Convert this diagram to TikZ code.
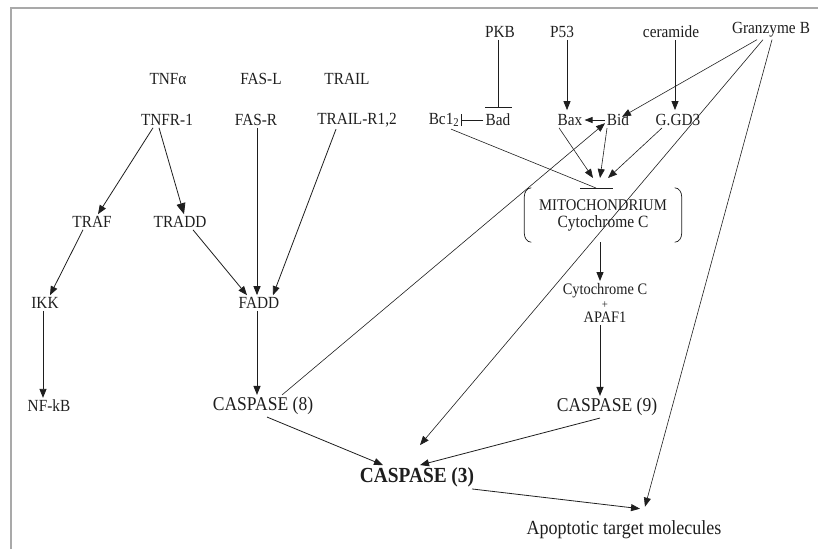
\documentclass[tikz,border=0pt]{standalone}
\usepackage{fontspec}
\setmainfont{Liberation Serif}[FakeStretch=0.9]
\usetikzlibrary{arrows.meta}
\definecolor{ink}{HTML}{1E1E1E}
\definecolor{framegray}{HTML}{A9A9A9}
\tikzset{
  lbl/.style={inner sep=2pt, text=ink, font=\fontsize{17}{17}\selectfont},
  big/.style={lbl, font=\fontsize{19.5}{19.5}\selectfont},
  arr/.style={draw=ink, line width=0.8pt, -{Triangle[length=9pt,width=7pt]}},
  thinarr/.style={draw=ink, line width=0.6pt, -{Triangle[length=9pt,width=7pt]}},
  inh/.style={draw=ink, line width=0.8pt},
}
\begin{document}
\begin{tikzpicture}[x=1pt,y=-1pt]
\useasboundingbox (0,0) rectangle (818,549);
% frame
\draw[framegray, line width=2.5pt] (11,549) -- (11,8) -- (818,8);

% left: receptors
\node[lbl] (tnfa) at (168,79) {TNFα};
\node[lbl] (fasl) at (261,79) {FAS-L};
\node[lbl] (trail) at (347,79) {TRAIL};
\node[lbl] (tnfr) at (167,120) {TNFR-1};
\node[lbl] (fasr) at (256,120) {FAS-R};
\node[lbl] (trailr) at (357,120) {TRAIL-R1,2};
\node[lbl] (traf) at (92,222) {TRAF};
\node[lbl] (tradd) at (180,222) {TRADD};
\node[lbl] (ikk) at (45,303) {IKK};
\node[lbl] (fadd) at (259,303) {FADD};
\node[lbl] (nfkb) at (49,406) {NF-kB};
\node[big] (casp8) at (263,406) {CASPASE (8)};
\node[lbl, font=\fontsize{21.5}{21.5}\selectfont\bfseries] (casp3) at (417,477) {CASPASE (3)};
\node[lbl, font=\fontsize{20}{20}\selectfont] (apo) at (624,530) {Apoptotic target molecules};

% right: mitochondrial
\node[lbl] (pkb) at (500,32) {PKB};
\node[lbl] (p53) at (562,32) {P53};
\node[lbl] (ceramide) at (671,32) {ceramide};
\node[lbl] (granz) at (771,30) {Granzyme\hspace{4pt}B};
\node[lbl] (bcl2) at (444,120) {Bc1\textsubscript{2}};
\node[lbl] (bad) at (498,120) {Bad};
\node[lbl] (bax) at (570,120) {Bax};
\node[lbl] (bid) at (618,120) {Bid};
\node[lbl] (ggd3) at (678,120) {G.GD3};
\node[lbl, minimum width=157pt, minimum height=54pt, align=center] (mito) at (603,215)
  {{\fontsize{16.3}{19.5}\selectfont MITOCHONDRIUM}\\{\fontsize{17.2}{17}\selectfont Cytochrome C}};
\node[lbl, align=center, font=\fontsize{16}{14.2}\selectfont] (cytapaf) at (605,303)
  {Cytochrome C\\{\fontsize{12}{12}\selectfont +}\\APAF1};
\node[big] (casp9) at (607,407) {CASPASE (9)};

% mitochondrion brackets
\draw[ink, line width=0.7pt] ([xshift=7pt]mito.north west) to[out=180,in=90] ([yshift=-9pt]mito.north west)
  -- ([yshift=9pt]mito.south west) to[out=-90,in=180] ([xshift=7pt]mito.south west);
\draw[ink, line width=0.7pt] ([xshift=-7pt]mito.north east) to[out=0,in=90] ([yshift=-9pt]mito.north east)
  -- ([yshift=9pt]mito.south east) to[out=-90,in=0] ([xshift=-7pt]mito.south east);

% entry points above the mitochondrion
\coordinate (inA) at (593,178);
\coordinate (inB) at (600,178);
\coordinate (inC) at (608,178);
\coordinate (barmid) at (596,188);
\coordinate (barL) at (580,188);
\coordinate (barR) at (613,188);

% connectors: left
\draw[arr] ([xshift=-14pt]tnfr.south) -- ([xshift=6pt]traf.north);
\draw[arr, -{Triangle[length=11pt,width=9pt]}] ([xshift=-8pt]tnfr.south) -- ([xshift=4pt]tradd.north);
\draw[arr, line width=1pt] ([xshift=1pt]fasr.south) -- ([xshift=1pt]fasr.south |- fadd.north);
\draw[arr] ([xshift=-21pt]trailr.south) -- ([xshift=14pt]fadd.north);
\draw[arr] ([xshift=13pt]tradd.south) -- ([xshift=-12pt]fadd.north);
\draw[arr] ([xshift=-9pt]traf.south) -- ([xshift=5pt]ikk.north);
\draw[arr] ([xshift=-2pt]ikk.south) -- ([xshift=-2pt]ikk.south |- nfkb.north);
\draw[arr, line width=1pt] ([xshift=-2pt]fadd.south) -- ([xshift=-2pt]fadd.south |- casp8.north);
\draw[arr] ([xshift=4pt]casp8.south) -- ([xshift=-34pt]casp3.north);
\draw[thinarr] ([xshift=19pt]casp8.north) -- ([xshift=-13pt,yshift=5pt]bid.south);

% connectors: right
\draw[inh, -{Bar[width=27pt]}] ([xshift=-2pt]pkb.south) -- ([xshift=-2pt,yshift=4pt]pkb.south |- bad.north);
\draw[arr] ([xshift=5pt]p53.south) -- ([xshift=5pt,yshift=2pt]p53.south |- bax.north);
\draw[arr] ([xshift=4pt]ceramide.south) -- ([xshift=4pt,yshift=2pt]ceramide.south |- ggd3.north);
\draw[inh, -{Bar[width=12pt]}] (bad.west) -- (bcl2.east);
\draw[arr, -{Triangle[length=8pt,width=6pt]}] (bid.west) -- (bax.east);
\draw[thinarr] ([xshift=-14pt]granz.south) -- ([xshift=4pt,yshift=-5pt]bid.north);
\draw[thinarr] ([xshift=-8pt]granz.south) -- ([xshift=3pt,yshift=20pt]casp3.north);
\draw[thinarr] ([xshift=1pt]granz.south) -- ([xshift=21pt,yshift=12pt]apo.north);
\draw[inh, line width=0.6pt] ([xshift=7pt]bcl2.south) -- (barmid);
\draw[inh] (barL) -- (barR);
\draw[arr, line width=0.6pt] ([xshift=-11pt]bax.south) -- (inA);
\draw[arr, line width=0.6pt] ([xshift=-11pt]bid.south) -- (inB);
\draw[arr, line width=0.6pt] ([xshift=-16pt]ggd3.south) -- (inC);
\draw[arr, line width=1pt] ([xshift=-3pt]mito.south) -- ([xshift=-3pt]mito.south |- cytapaf.north);
\draw[arr, line width=1pt] ([xshift=-5pt]cytapaf.south) -- ([xshift=-5pt]cytapaf.south |- casp9.north);
\draw[arr] ([xshift=-7pt]casp9.south) -- ([xshift=3pt]casp3.north);
\draw[arr] ([xshift=55pt]casp3.south) -- ([xshift=16pt,yshift=10pt]apo.north);
\end{tikzpicture}
\end{document}
